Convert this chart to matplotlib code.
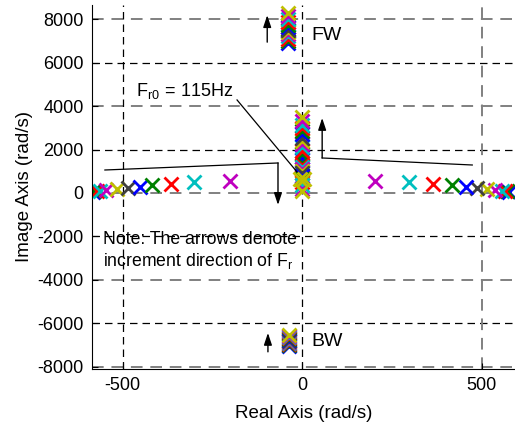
import matplotlib
matplotlib.use('Agg')
from matplotlib import pyplot as plt

plt.rcParams['font.family'] = ['Liberation Sans', 'DejaVu Sans']
plt.rcParams['mathtext.fontset'] = 'custom'
plt.rcParams['mathtext.rm'] = 'Liberation Sans'
plt.rcParams['mathtext.it'] = 'Liberation Sans'
plt.rcParams['axes.unicode_minus'] = False

# pole colours cycle with each Fr step (old matlab colour order)
step_colors = ['b', 'g', 'r', 'c', 'm', 'y', 'k'] * 2
step_colors = step_colors[:13]
rgb = {'b': (0, 0, 1), 'g': (0, 0.5, 0), 'r': (1, 0, 0), 'c': (0, 0.75, 0.75),
       'm': (0.75, 0, 0.75), 'y': (0.75, 0.75, 0), 'k': (0.25, 0.25, 0.25)}

# poles near the real axis (left and right pair), per Fr step
real_left = [-583, -578, -572, -564, -547, -514, -486, -451, -418, -365, -301, -201, -6]
real_right = [575, 571, 564, 558, 536, 514, 487, 457, 418, 365, 298, 203, 6]
imag_pair = [60, 70, 90, 110, 140, 180, 230, 280, 370, 400, 490, 550, 640]

# poles on the imaginary axis
col_up = [1650, 1800, 1950, 2100, 2250, 2400, 2550, 2700, 2850, 3000, 3150, 3300, 3480]
col_down = [1500, 1400, 1300, 1200, 1100, 1000, 900, 800, 650, 500, 350, 200, 80]
fw_real = -38
fw_imag = [6900, 7000, 7100, 7200, 7300, 7400, 7500, 7620, 7750, 7880, 8000, 8140, 8280]
bw_real = -36
bw_imag = [-7030, -6990, -6950, -6910, -6870, -6830, -6790, -6750, -6710,
           -6670, -6620, -6580, -6530]

fig = plt.figure(figsize=(5.15, 4.26), dpi=100)
ax = fig.add_axes([0.1786, 0.1338, 0.8214, 0.8545])

# grid: black and grey dashed lines
for yv in [-6000, -2000, 2000, 6000]:
    ax.axhline(yv, color='k', ls=(0, (6, 4)), lw=0.9, zorder=0)
for yv in [-8000, -4000, 0, 4000, 8000]:
    ax.axhline(yv, color='0.5', ls=(0, (6, 4)), lw=1.4, zorder=0)
for xv in [-500, 0]:
    ax.axvline(xv, color='k', ls=(0, (6, 4)), lw=0.9, zorder=0)
ax.axvline(500, color='0.5', ls=(0, (6, 4)), lw=1.4, zorder=0)

mk = dict(marker='x', ls='none', ms=10, mew=2.0)
for i, c in enumerate(step_colors):
    col = rgb[c]
    ax.plot([real_left[i], real_right[i]], [imag_pair[i], imag_pair[i]], color=col, **mk)
    ax.plot([0, 0], [col_up[i], col_down[i]], color=col, **mk)
    ax.plot([fw_real], [fw_imag[i]], color=col, **mk)
    ax.plot([bw_real], [bw_imag[i]], color=col, **mk)

# annotations
arr = dict(arrowstyle='-|>,head_length=0.9,head_width=0.3', color='k', lw=1.0,
           mutation_scale=8, shrinkA=0, shrinkB=0)
ax.annotate('', xy=(-97, 8180), xytext=(-97, 6940), arrowprops=arr)
ax.annotate('', xy=(-95, -6440), xytext=(-95, -7310), arrowprops=arr)
ax.plot([-549, -67], [1057, 1380], color='k', lw=0.9)
ax.annotate('', xy=(-67, -550), xytext=(-67, 1380), arrowprops=arr)
ax.plot([474, 56], [1287, 1610], color='k', lw=0.9)
ax.annotate('', xy=(56, 3450), xytext=(56, 1610), arrowprops=arr)
ax.plot([-181, -14], [4280, 966], color='k', lw=0.9)

ax.text(25, 7250, 'FW', fontsize=14, va='center', ha='left')
ax.text(25, -6850, 'BW', fontsize=14, va='center', ha='left')
ax.text(-462, 4700, r'F$_{\mathrm{r0}}$$\,=\,$115Hz', fontsize=13, va='center', ha='left')
ax.text(-554, -2150, 'Note: The arrows denote', fontsize=12.7, va='center', ha='left')
ax.text(-554, -3150, r'increment direction of F$_{\mathrm{r}}$', fontsize=12.7,
        va='center', ha='left')

ax.set_xlim(-585, 593)
ax.set_ylim(-8100, 8650)
ax.set_xticks([-500, 0, 500])
ax.set_yticks(range(-8000, 8001, 2000))
ax.tick_params(direction='in', labelsize=13, length=4, width=0.8, pad=6)
ax.spines['top'].set_visible(False)
ax.spines['right'].set_visible(False)
ax.set_xlabel('Real Axis (rad/s)', fontsize=13.5, labelpad=8)
ax.set_ylabel('Image Axis (rad/s)', fontsize=13.5, labelpad=3)

fig.savefig('out.png', dpi=100)
